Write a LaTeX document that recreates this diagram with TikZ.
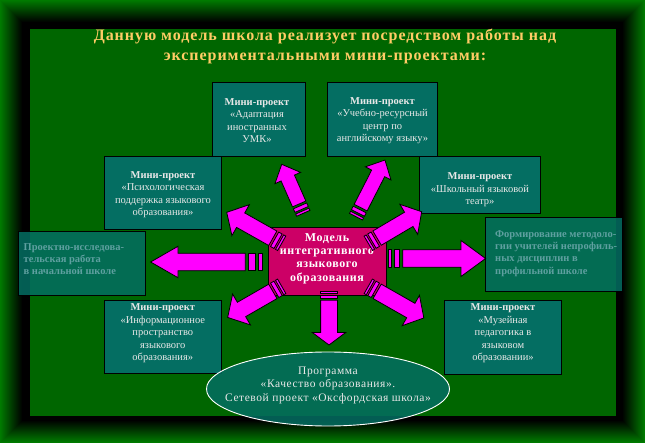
\documentclass[tikz,border=0pt]{standalone}
\usepackage{fontspec}
\setmainfont{Liberation Serif}
\newfontfamily\titlefont{Liberation Serif}[LetterSpace=6]
\newfontfamily\spacedfont{Liberation Serif}[LetterSpace=5]
\usetikzlibrary{calc,shapes.geometric}
\definecolor{framegreen}{RGB}{0,122,0}
\definecolor{panelgreen}{RGB}{0,102,0}
\definecolor{boxteal}{RGB}{4,110,98}
\definecolor{arrowmag}{RGB}{255,0,255}
\definecolor{centerred}{RGB}{204,0,102}
\definecolor{titlecol}{RGB}{255,204,102}
\definecolor{boxtext}{RGB}{232,232,232}
\definecolor{mutedtext}{RGB}{95,160,160}
\tikzset{
  projbox/.style={draw=black, line width=0.9pt, fill=boxteal, inner sep=0pt, rectangle},
  fadebox/.style={draw=black, line width=0.9pt, fill=boxteal, fill opacity=0.85, inner sep=0pt, rectangle},
  boxlabel/.style={text=boxtext, align=center, font=\fontsize{10.5}{12.4}\selectfont, inner sep=0pt},
  fadelabel/.style={text=mutedtext, align=left, font=\fontsize{10.5}{12.4}\selectfont\bfseries, inner sep=0pt},
  arrowpart/.style={draw=black, line width=0.8pt, fill=arrowmag, line join=miter},
}
\newcommand{\stripearrow}[6]{%
  \path (#1); \pgfgetlastxy{\stpAx}{\stpAy}%
  \path (#2); \pgfgetlastxy{\stpBx}{\stpBy}%
  \pgfmathsetmacro{\stpAng}{atan2(\stpBy-\stpAy,\stpBx-\stpAx)}%
  \pgfmathsetmacro{\stpLen}{veclen(\stpBx-\stpAx,\stpBy-\stpAy)}%
  \pgfmathsetmacro{\stpQa}{4*#6}%
  \pgfmathsetmacro{\stpQb}{7*#6}%
  \pgfmathsetmacro{\stpQc}{13.5*#6}%
  \pgfmathsetmacro{\stpQd}{17*#6}%
  \pgfmathsetmacro{\stpHb}{\stpLen-#5}%
  \begin{scope}[shift={(#1)},rotate=\stpAng,x=1pt,y=1pt]
    \filldraw[arrowpart] (0,-#3) rectangle (\stpQa,#3);
    \filldraw[arrowpart] (\stpQb,-#3) rectangle (\stpQc,#3);
    \filldraw[arrowpart] (\stpQd,-#3) -- (\stpHb,-#3) -- (\stpHb,-#4) -- (\stpLen,0)
      -- (\stpHb,#4) -- (\stpHb,#3) -- (\stpQd,#3) -- cycle;
  \end{scope}}
\begin{document}
\begin{tikzpicture}[x=1pt,y=-1pt]
\useasboundingbox (0,0) rectangle (645,443);
% frame
\fill[framegreen] (0,0) rectangle (645,443);
\foreach \i in {1,...,28}{%
  \pgfmathsetmacro{\mixv}{min(100,\i*100/22)}%
  \fill[black!\mixv!framegreen] (\i,\i) rectangle (645-\i,443-\i);
}
\fill[panelgreen] (30,29) rectangle (616,416);

% title
\node[text=titlecol, align=center, font=\titlefont\fontsize{16}{20}\selectfont\bfseries, inner sep=0pt] (title) at (325,46)
  {Данную модель школа реализует посредством работы над\\экспериментальными мини-проектами:};

% boxes
\node[projbox, minimum width=93, minimum height=74] (A) at (258.5,119) {};
\node[projbox, minimum width=110, minimum height=74] (B) at (382.5,119) {};
\node[projbox, minimum width=117, minimum height=73.3] (C) at (163,193.3) {};
\node[projbox, minimum width=120.5, minimum height=57.3] (D) at (480,185.3) {};
\node[fadebox, minimum width=127.4, minimum height=64.3] (E) at (82,263.8) {};
\node[fadebox, minimum width=137, minimum height=73.7] (F) at (553.8,254.2) {};
\node[projbox, minimum width=116.5, minimum height=73.3] (G) at (162.8,337.3) {};
\node[projbox, minimum width=117.3, minimum height=74] (H) at (503,337) {};
\node[draw=white, line width=0.9pt, fill=boxteal, fill opacity=0.85, ellipse, minimum width=243, minimum height=74, inner sep=0pt] (P) at (328,389) {};
\node[draw=black, line width=0.9pt, fill=centerred, minimum width=118, minimum height=68, inner sep=0pt] (M) at (327,261) {};

% labels
\node[boxlabel] (At) at (257,120.5) {\textbf{Мини-проект}\\«Адаптация\\иностранных\\УМК»};
\node[boxlabel] (Bt) at (382.5,120.5) {\textbf{Мини-проект}\\«Учебно-ресурсный\\центр по\\английскому языку»};
\node[boxlabel] (Ct) at (163,194.5) {\textbf{Мини-проект}\\«Психологическая\\поддержка языкового\\образования»};
\node[boxlabel] (Dt) at (480,190) {\textbf{Мини-проект}\\«Школьный языковой\\театр»};
\node[boxlabel] (Gt) at (162.8,333.3) {\textbf{Мини-проект}\\«Информационное\\пространство\\языкового\\образования»};
\node[boxlabel] (Ht) at (503,333.3) {\textbf{Мини-проект}\\«Музейная\\педагогика в\\языковом\\образовании»};
\node[fadelabel, anchor=west] (Et) at (23.5,259.2) {Проектно-исследова-\\тельская работа\\в начальной школе};
\node[fadelabel, anchor=west] (Ft) at (495,253.3) {Формирование методоло-\\гии учителей непрофиль-\\ных дисциплин в\\профильной школе};
\node[text=white, align=center, font=\spacedfont\fontsize{12}{13.3}\selectfont\bfseries, inner sep=0pt] (Mt) at (327,258.5)
  {Модель\\интегративного\\языкового\\образования};
\node[text=boxtext, align=center, font=\spacedfont\fontsize{11.5}{13.3}\selectfont, inner sep=0pt] (Pt) at (328,385.2)
  {Программа\\«Качество образования».\\Сетевой проект «Оксфордская школа»};

% arrow end points
\coordinate (tW) at (262.3,262);   \coordinate (hW) at (150.6,262);
\coordinate (tE) at (388.3,258.5); \coordinate (hE) at (485.6,258.5);
\coordinate (tS) at (329,291.7);   \coordinate (hS) at (329,345);
\coordinate (tNA) at (303.3,213.3); \coordinate (hNA) at (281.7,164.3);
\coordinate (tNB) at (356,216.7);   \coordinate (hNB) at (385,160);
\coordinate (tNW) at (281.7,243.3); \coordinate (hNW) at (226.7,212.3);
\coordinate (tNE) at (368.3,243.3); \coordinate (hNE) at (421.7,211.7);
\coordinate (tSW) at (281.7,286.3); \coordinate (hSW) at (227.6,317.5);
\coordinate (tSE) at (368.3,286.3); \coordinate (hSE) at (423.9,318);

\stripearrow{tW}{hW}{8.7}{15.7}{27.4}{1}
\stripearrow{tE}{hE}{8.7}{18}{24.6}{0.85}
\stripearrow{tS}{hS}{8.4}{16.7}{12.5}{0.5}
\stripearrow{tNA}{hNA}{7.3}{14}{15}{0.6}
\stripearrow{tNB}{hNB}{7.3}{14.4}{15}{0.6}
\stripearrow{tNW}{hNW}{8.3}{17.8}{16}{0.6}
\stripearrow{tNE}{hNE}{8.3}{17.5}{15}{0.6}
\stripearrow{tSW}{hSW}{8.3}{17.8}{16}{0.6}
\stripearrow{tSE}{hSE}{8.3}{17.5}{15}{0.6}
\end{tikzpicture}
\end{document}
